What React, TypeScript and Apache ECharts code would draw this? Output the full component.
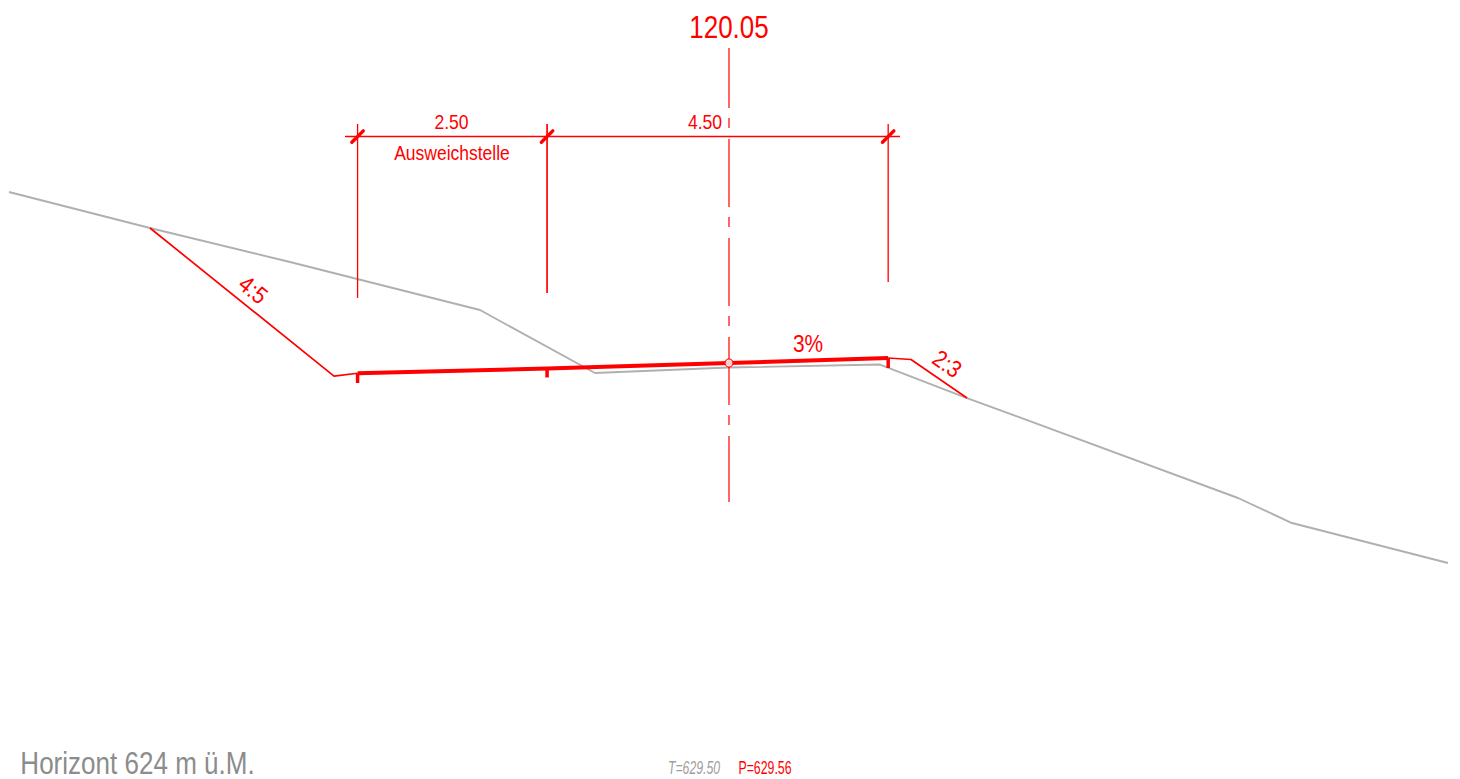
import React, { useEffect, useRef } from "react";
import * as echarts from "echarts";

// All geometry is in metres: station from the axis, and elevation above sea level.
const terrainStation = [-9.499, -7.639, -5.792, -3.285, -1.768, 0, 1.992, 3.14, 6.715, 7.427, 9.485];
const terrainElevation = [631.816, 631.341, 630.892, 630.259, 629.428, 629.5, 629.54, 629.098, 627.779, 627.449, 626.921];

const roadStation = [-4.9, -2.4, 0, 2.1];
const roadElevation = [629.425, 629.488, 629.56, 629.626];

const cutStation = [-7.639, -5.211, -4.9];
const cutElevation = [631.341, 629.388, 629.425];

const fillStation = [2.1, 2.401, 3.14];
const fillElevation = [629.626, 629.606, 629.098];

const tickBottomElevation = [629.296, 629.369, 629.494];
const tickStation = [-4.9, -2.4, 2.1];

const witnessStation = [-4.9, -2.4, 2.1];
const witnessTop = [632.713, 632.713, 632.713];
const witnessBottom = [630.418, 630.483, 630.629];
const witnessWidth = [1.3, 1.7, 1.3];

const dimensionLevel = 632.548;
const dimensionExtent = [-5.066, 2.256];
const slashHalf = 0.075;

const axisStation = 0;
const axisElevation = [633.716, 627.726];
const pointElevation = 629.56;

const axisTitle = "120.05";
const dimensionLabels = ["2.50", "4.50"];
const noteLabel = "Ausweichstelle";
const gradeLabel = "3%";
const slopeLabels = ["4:5", "2:3"];
const horizonLabel = "Horizont 624 m ü.M.";
const terrainLevelLabel = "T=629.50";
const projectLevelLabel = "P=629.56";

const RED = "#ff0000";
const GREY = "#b0b0b0";
const FONT = '"Liberation Sans", Arial, sans-serif';

const zip = (a: number[], b: number[]) => a.map((v, i) => [v, b[i]]);

const line = (name: string, data: number[][], color: string, width: number, extra: object = {}) => ({
  name,
  type: "line",
  data,
  silent: true,
  showSymbol: false,
  symbol: "none",
  lineStyle: { color, width, cap: "butt", join: "round", ...extra },
});

const label = (
  text: string,
  x: number,
  y: number,
  size: number,
  scaleX: number,
  fill: string,
  deg = 0,
  italic = false,
) => ({
  type: "text",
  x,
  y,
  scaleX,
  rotation: (deg * Math.PI) / 180,
  silent: true,
  style: {
    text,
    fill,
    font: `${italic ? "italic " : ""}${size}px ${FONT}`,
    textAlign: "center",
    textVerticalAlign: "middle",
  },
});

export default function App() {
  const ref = useRef<HTMLDivElement>(null);

  useEffect(() => {
    document.body.style.margin = "0";
    const chart = echarts.init(ref.current!, null, { renderer: "svg" });
    chart.setOption({
      animation: false,
      backgroundColor: "#ffffff",
      grid: { left: 0, right: 0, top: 0, bottom: 0 },
      xAxis: { type: "value", min: -9.6174, max: 9.6438, show: false },
      yAxis: { type: "value", min: 624.072, max: 634.349, show: false },
      series: [
        line("Terrain", zip(terrainStation, terrainElevation), GREY, 1.9),
        line("Cut slope", zip(cutStation, cutElevation), RED, 1.7),
        line("Fill slope", zip(fillStation, fillElevation), RED, 1.7),
        line("Axis", axisElevation.map((z) => [axisStation, z]), RED, 1.2, {
          type: [68, 10, 10, 11],
          dashOffset: 8,
        }),
        ...witnessStation.map((s, i) =>
          line(`Witness ${i}`, [[s, witnessTop[i]], [s, witnessBottom[i]]], RED, witnessWidth[i]),
        ),
        line("Dimension", dimensionExtent.map((s) => [s, dimensionLevel]), RED, 1.5),
        ...witnessStation.map((s, i) =>
          line(
            `Slash ${i}`,
            [[s - slashHalf, dimensionLevel - slashHalf], [s + slashHalf, dimensionLevel + slashHalf]],
            RED,
            3.4,
            { cap: "round" },
          ),
        ),
        line("Road", zip(roadStation, roadElevation), RED, 4),
        ...tickStation.map((s, i) =>
          line(
            `Road tick ${i}`,
            [[s, roadElevation[roadStation.indexOf(s)]], [s, tickBottomElevation[i]]],
            RED,
            3.5,
          ),
        ),
        {
          name: "Project point",
          type: "scatter",
          silent: true,
          symbol: "circle",
          symbolSize: 8,
          data: [[axisStation, pointElevation]],
          itemStyle: { color: "#ffffff", borderColor: RED, borderWidth: 1.3 },
          z: 5,
        },
      ],
      graphic: [
        label(axisTitle, 729, 27, 31, 0.84, RED),
        label(dimensionLabels[0], 451.5, 122.5, 20, 0.88, RED),
        label(dimensionLabels[1], 705, 122.5, 20, 0.88, RED),
        label(noteLabel, 452, 153, 20, 0.875, RED),
        label(gradeLabel, 808, 344, 24, 0.87, RED),
        label(slopeLabels[0], 253, 290, 24, 0.87, RED, -39),
        label(slopeLabels[1], 947, 364, 24, 0.87, RED, -35),
        label(horizonLabel, 137.5, 763, 31, 0.84, "#8c8c8c"),
        label(terrainLevelLabel, 694, 767, 19, 0.645, "#a0a0a0", 0, true),
        label(projectLevelLabel, 765, 767, 19, 0.65, RED),
      ],
    });
    return () => chart.dispose();
  }, []);

  return <div ref={ref} style={{ position: "fixed", left: 0, top: 0, width: 1460, height: 779 }} />;
}
